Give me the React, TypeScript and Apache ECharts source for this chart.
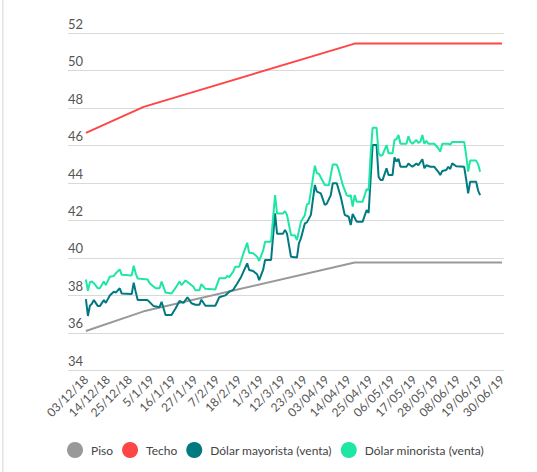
import React, { useEffect, useRef } from "react";
import * as echarts from "echarts";

// Day offsets are counted from 03/12/2018 (day 0).
const tickDays = [0, 11, 22, 33, 44, 55, 66, 77, 88, 99, 110, 121, 132, 143, 154, 165, 176, 187, 198, 209];
const tickLabels = [
  "03/12/18", "14/12/18", "25/12/18", "5/1/19", "16/1/19", "27/1/19", "7/2/19", "18/2/19",
  "1/3/19", "12/3/19", "23/3/19", "03/04/19", "14/04/19", "25/04/19", "06/05/19", "17/05/19",
  "28/05/19", "08/06/19", "19/06/19", "30/06/19",
];

const yTicks = { min: 34, max: 52, step: 2 };

const piso: [number, number][] = [[0, 36.1], [29, 37.15], [135, 39.76], [209, 39.76]];
const techo: [number, number][] = [[0, 46.68], [29, 48.07], [135, 51.45], [209, 51.45]];

const mayorista: [number, number][] = [
  [0, 37.8], [1, 36.9], [2, 37.45], [3, 37.55], [4, 37.75], [6, 37.43], [7, 37.43], [9, 37.75], [10, 37.6],
  [12, 38.0], [14, 38.2], [15, 38.15], [17, 38.38], [18, 38.1], [23, 38.07], [24, 38.68], [25, 38.2],
  [26, 37.75], [31, 37.75], [34, 37.43], [37, 37.37], [38, 37.66], [40, 36.95], [43, 36.95], [45, 37.3],
  [47, 37.7], [49, 37.6], [51, 37.9], [53, 37.58], [55, 37.5], [57, 37.5], [58, 37.77], [60, 37.45],
  [65, 37.45], [67, 37.9], [70, 38.0], [72, 38.2], [74, 38.3], [76, 38.64], [78, 39.0], [81, 39.71],
  [82, 39.36], [84, 39.3], [86, 39.13], [87, 38.82], [89, 39.36], [90, 39.89], [93, 39.89], [95, 42.38],
  [96, 41.3], [99, 41.3], [100, 41.5], [101, 41.3], [103, 40.07], [106, 40.02], [107, 40.78], [108, 41.05],
  [110, 41.85], [111, 41.9], [113, 42.3], [115, 43.9], [116, 43.54], [118, 43.45], [120, 42.83], [121, 42.9],
  [123, 43.36], [124, 43.99], [126, 43.99], [128, 43.27], [130, 42.3], [132, 42.2], [133, 41.76], [134, 42.35],
  [136, 41.94], [139, 41.94], [141, 42.56], [142, 42.4], [144, 46.03], [146, 46.03], [147, 44.34], [148, 44.16],
  [149, 44.16], [151, 44.79], [152, 44.43], [154, 44.43], [155, 45.37], [156, 45.15], [157, 45.3], [158, 44.87],
  [161, 44.87], [162, 45.05], [163, 44.95], [164, 44.87], [166, 45.05], [167, 44.95], [169, 45.27], [170, 44.79],
  [171, 44.95], [173, 44.87], [175, 44.87], [177, 44.6], [178, 44.43], [179, 44.65], [181, 44.7], [182, 44.87],
  [183, 44.75], [184, 45.05], [186, 44.9], [190, 44.87], [191, 44.2], [192, 43.45], [193, 44.07], [196, 44.07],
  [197, 43.6], [198, 43.36],
];

const minorista: [number, number][] = [
  [0, 38.85], [1, 38.25], [2, 38.7], [3, 38.74], [4, 38.65], [6, 38.38], [7, 38.38], [9, 38.74], [10, 38.55],
  [12, 39.0], [14, 39.04], [15, 39.18], [17, 39.39], [18, 39.1], [23, 39.07], [24, 39.59], [25, 39.18],
  [26, 38.9], [31, 38.85], [32, 38.65], [35, 38.38], [37, 38.38], [38, 38.74], [40, 38.15], [43, 38.1],
  [45, 38.4], [47, 38.74], [48, 38.55], [50, 38.8], [52, 38.64], [54, 38.46], [55, 38.28], [57, 38.28],
  [58, 38.6], [60, 38.35], [65, 38.32], [67, 38.91], [70, 38.91], [71, 39.04], [72, 38.98], [74, 39.27],
  [75, 39.53], [77, 39.53], [79, 40.21], [81, 40.81], [82, 40.28], [84, 40.25], [86, 40.07], [87, 39.84],
  [89, 40.39], [90, 40.87], [93, 40.87], [95, 43.36], [96, 42.38], [99, 42.38], [100, 42.5], [101, 42.3],
  [103, 41.23], [105, 41.2], [106, 40.96], [108, 41.94], [110, 42.3], [111, 42.86], [112, 42.9], [113, 43.54],
  [115, 44.93], [116, 44.52], [117, 44.5], [120, 43.9], [122, 43.88], [123, 44.43], [124, 45.0], [126, 44.98],
  [127, 44.7], [129, 43.9], [131, 43.36], [132, 43.3], [133, 43.36], [134, 42.74], [135, 43.36], [136, 43.0],
  [139, 43.0], [141, 43.68], [142, 43.6], [143, 45.5], [144, 46.95], [146, 46.95], [147, 45.6], [148, 45.45],
  [149, 45.5], [151, 46.03], [152, 45.59], [154, 45.59], [155, 46.3], [156, 46.35], [157, 46.57], [158, 46.1],
  [161, 46.1], [162, 46.5], [163, 46.2], [164, 46.1], [166, 46.3], [167, 46.15], [168, 46.2], [169, 46.57],
  [170, 46.1], [171, 46.25], [172, 46.1], [175, 46.1], [177, 45.86], [178, 45.68], [179, 46.1], [182, 46.1],
  [183, 46.05], [184, 46.2], [190, 46.2], [191, 45.5], [192, 44.61], [193, 45.2], [196, 45.2], [197, 45.0],
  [198, 44.61],
];

const seriesNames = ["Piso", "Techo", "Dólar mayorista (venta)", "Dólar minorista (venta)"];
const seriesColors = ["#999999", "#ff4646", "#007a80", "#1ee6a4"];

const FONT = 'Lato, "Liberation Sans Narrow", sans-serif';

export default function App() {
  const ref = useRef<HTMLDivElement>(null);
  useEffect(() => {
    document.body.style.margin = "0";
    const chart = echarts.init(ref.current!, null, { renderer: "svg" });
    const datasets = [piso, techo, mayorista, minorista];
    chart.setOption({
      animation: false,
      backgroundColor: "#ffffff",
      textStyle: { fontFamily: FONT },
      grid: { left: 68, right: 33, top: 33.3, bottom: 101.7, containLabel: false },
      graphic: [
        { type: "rect", left: 2, top: 0, shape: { x: 0, y: 0, width: 1.5, height: 472 }, style: { fill: "#e2e2e2" } },
      ],
      xAxis: {
        type: "value",
        min: -9,
        max: 210,
        axisLine: { show: false },
        axisTick: { show: false },
        splitLine: { show: false },
        axisLabel: {
          customValues: tickDays,
          formatter: (v: number) => {
            const i = tickDays.indexOf(Math.round(v));
            return i >= 0 ? tickLabels[i] : "";
          },
          rotate: 45,
          margin: 7,
          color: "#555",
          fontSize: 12,
          fontFamily: FONT,
        },
      },
      yAxis: {
        type: "value",
        min: yTicks.min,
        max: yTicks.max,
        interval: yTicks.step,
        axisLine: { show: false },
        axisTick: { show: false },
        splitLine: { lineStyle: { color: "#d9d9d9", width: 1 } },
        axisLabel: {
          inside: true,
          margin: 0,
          align: "left",
          verticalAlign: "bottom",
          padding: [0, 0, 3, 0],
          color: "#555",
          fontSize: 13,
          fontFamily: FONT,
        },
      },
      legend: {
        left: 62,
        top: 437,
        icon: "circle",
        itemWidth: 16,
        itemHeight: 16,
        itemGap: 9,
        data: seriesNames,
        textStyle: { fontSize: 12, color: "#444", fontFamily: FONT, padding: [0, 0, 0, 3] },
      },
      series: datasets.map((d, i) => ({
        name: seriesNames[i],
        type: "line",
        data: d,
        symbol: "none",
        showSymbol: false,
        color: seriesColors[i],
        lineStyle: { width: 2, color: seriesColors[i] },
      })),
    });
    return () => chart.dispose();
  }, []);
  return <div ref={ref} style={{ width: 537, height: 472 }} />;
}
